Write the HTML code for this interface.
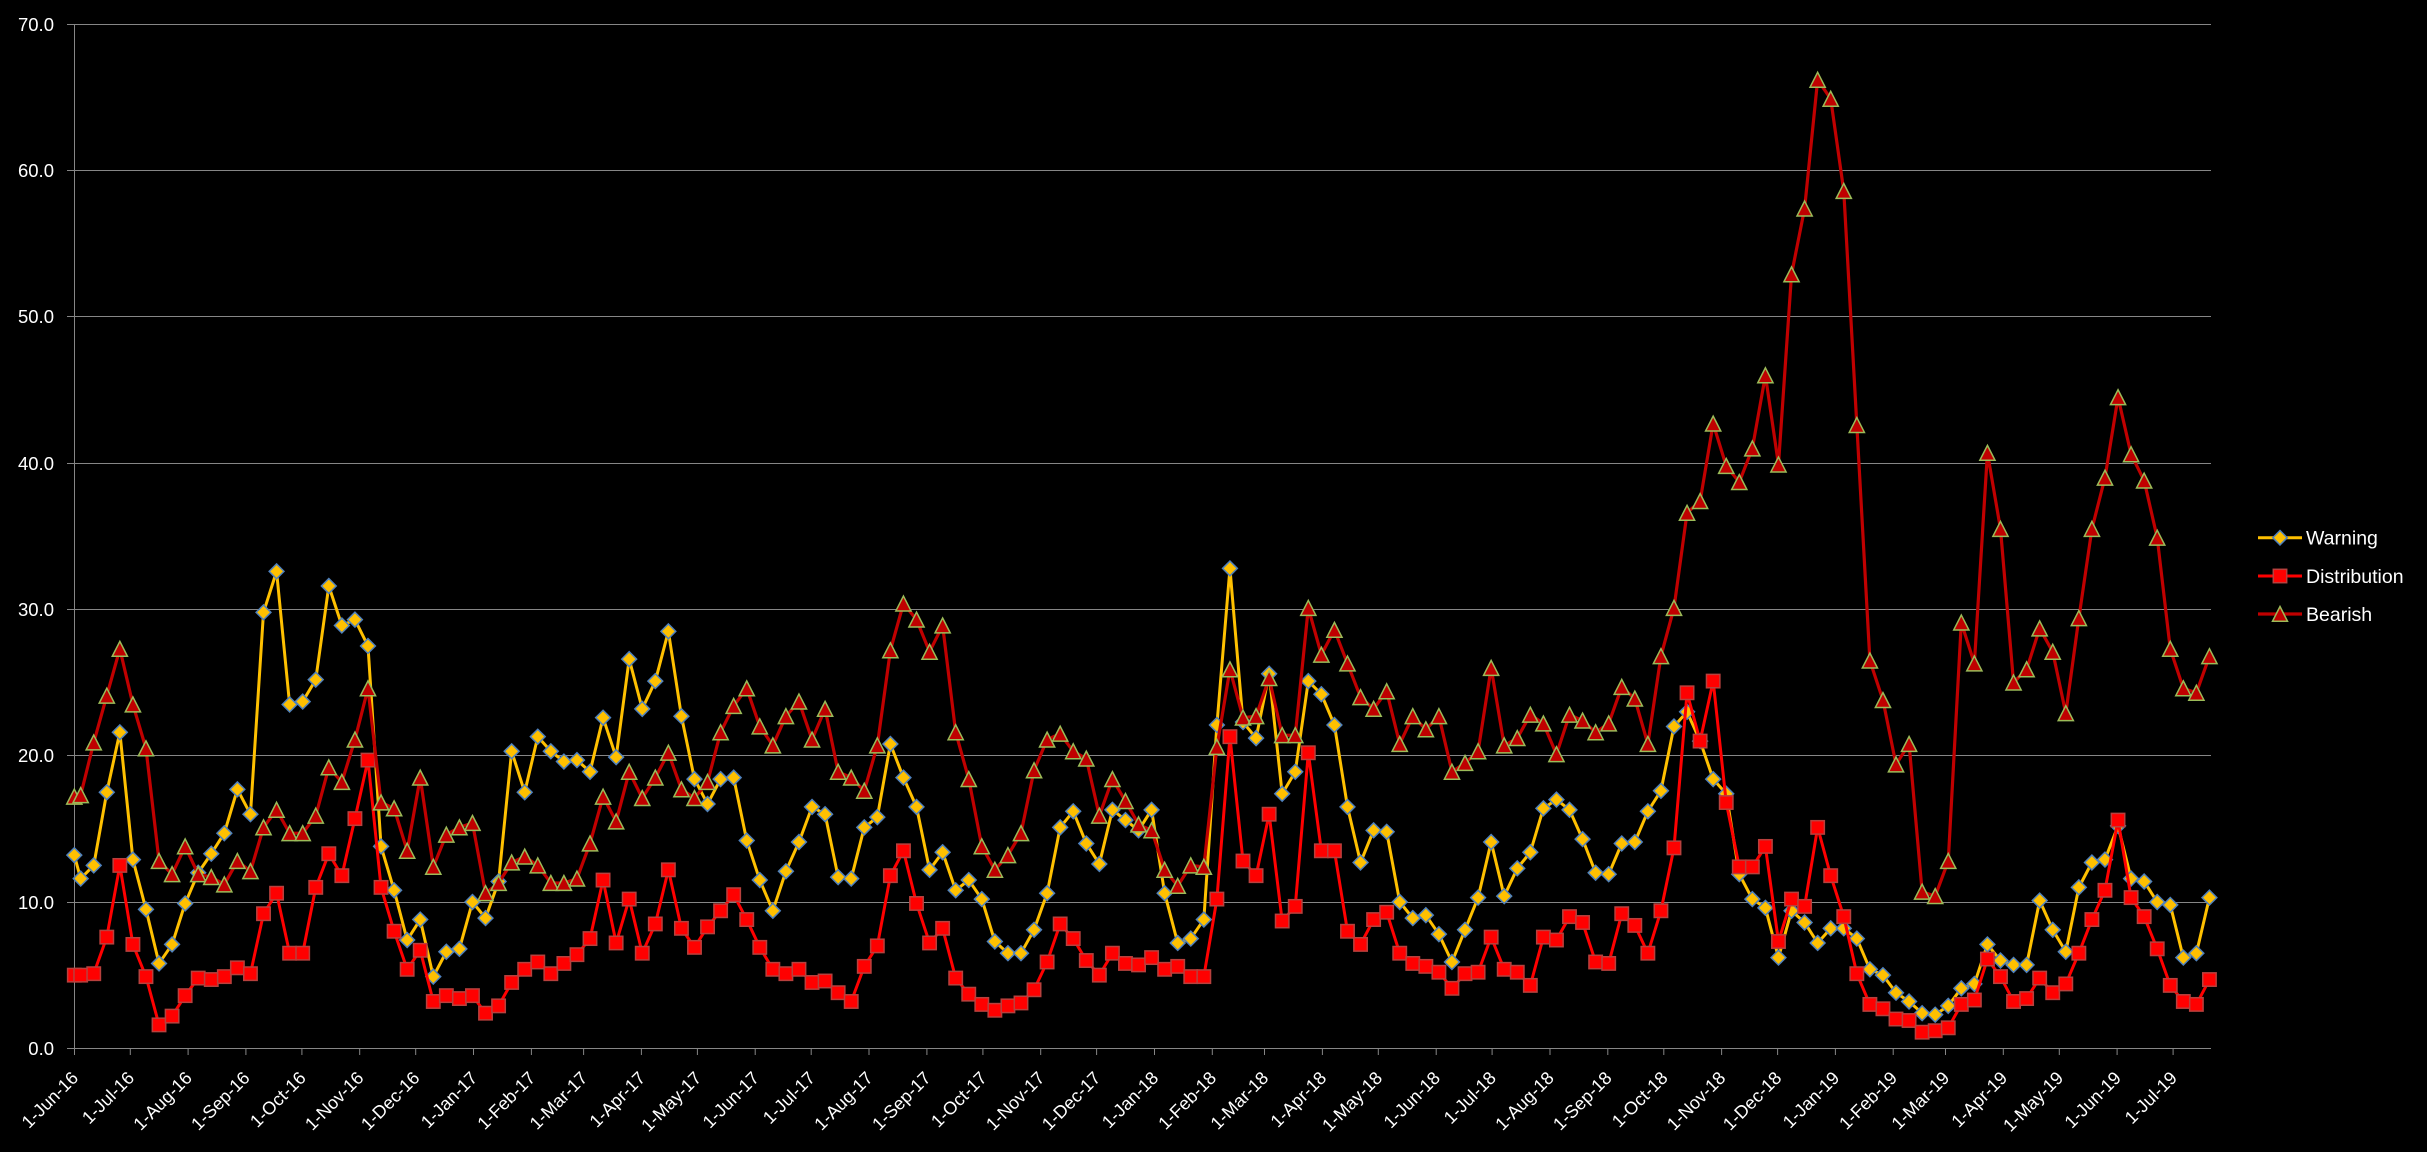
<!DOCTYPE html>
<html>
<head>
<meta charset="utf-8">
<style>
html,body{margin:0;padding:0;background:#000;}
body{width:2427px;height:1152px;overflow:hidden;}
svg{display:block;}
text{font-family:"Liberation Sans",Arial,sans-serif;fill:#fff;}
</style>
</head>
<body>
<svg width="2427" height="1152" viewBox="0 0 2427 1152" xmlns="http://www.w3.org/2000/svg">
<defs>
<marker id="mW" markerUnits="userSpaceOnUse" viewBox="0 0 16 16" refX="8" refY="8" markerWidth="1.2251" markerHeight="1.0936" preserveAspectRatio="none" overflow="visible">
<polygon points="8,0.6 15.4,8 8,15.4 0.6,8" fill="#FFC000" stroke="#4F81BD" stroke-width="1.5"/>
</marker>
<marker id="mD" markerUnits="userSpaceOnUse" viewBox="0 0 16 16" refX="8" refY="8" markerWidth="1.2251" markerHeight="1.0936" preserveAspectRatio="none" overflow="visible">
<rect x="1.3" y="1.3" width="13.4" height="13.4" fill="#FF0000" stroke="#B8403D" stroke-width="1.5"/>
</marker>
<marker id="mB" markerUnits="userSpaceOnUse" viewBox="0 0 16 16" refX="8" refY="8" markerWidth="1.2251" markerHeight="1.0936" preserveAspectRatio="none" overflow="visible">
<polygon points="8,15.5 15.6,0.6 0.4,0.6" fill="#C00000" stroke="#9BBB59" stroke-width="1.5" stroke-linejoin="miter"/>
</marker>
</defs>

<!-- gridlines -->
<g stroke="#868686" stroke-width="1" fill="none">
<path d="M67 24.5H2211M67 170.5H2211M67 316.5H2211M67 463.5H2211M67 609.5H2211M67 755.5H2211M67 902.5H2211M67 1048.5H2211"/>
<path d="M74.5 24V1049"/>
<path d="M74.5 1048v7M130.3 1048v7M188.1 1048v7M245.9 1048v7M301.9 1048v7M359.7 1048v7M415.7 1048v7M473.5 1048v7M531.4 1048v7M583.6 1048v7M641.4 1048v7M697.4 1048v7M755.2 1048v7M811.2 1048v7M869 1048v7M926.9 1048v7M982.9 1048v7M1040.7 1048v7M1096.6 1048v7M1154.5 1048v7M1212.3 1048v7M1264.5 1048v7M1322.4 1048v7M1378.3 1048v7M1436.2 1048v7M1492.1 1048v7M1550 1048v7M1607.8 1048v7M1663.8 1048v7M1721.6 1048v7M1777.6 1048v7M1835.4 1048v7M1893.2 1048v7M1945.5 1048v7M2003.3 1048v7M2059.3 1048v7M2117.1 1048v7M2173.1 1048v7"/>
</g>

<!-- y labels -->
<g font-size="18.5" text-anchor="end">
<text x="54" y="31">70.0</text>
<text x="54" y="177">60.0</text>
<text x="54" y="323">50.0</text>
<text x="54" y="470">40.0</text>
<text x="54" y="616">30.0</text>
<text x="54" y="762">20.0</text>
<text x="54" y="909">10.0</text>
<text x="54" y="1055">0.0</text>
</g>

<!-- x labels -->
<g font-size="18" text-anchor="end">
<text transform="translate(79.3,1079) rotate(-45)">1-Jun-16</text>
<text transform="translate(135.3,1079) rotate(-45)">1-Jul-16</text>
<text transform="translate(193.1,1079) rotate(-45)">1-Aug-16</text>
<text transform="translate(250.9,1079) rotate(-45)">1-Sep-16</text>
<text transform="translate(306.9,1079) rotate(-45)">1-Oct-16</text>
<text transform="translate(364.7,1079) rotate(-45)">1-Nov-16</text>
<text transform="translate(420.7,1079) rotate(-45)">1-Dec-16</text>
<text transform="translate(478.5,1079) rotate(-45)">1-Jan-17</text>
<text transform="translate(536.4,1079) rotate(-45)">1-Feb-17</text>
<text transform="translate(588.6,1079) rotate(-45)">1-Mar-17</text>
<text transform="translate(646.4,1079) rotate(-45)">1-Apr-17</text>
<text transform="translate(702.4,1079) rotate(-45)">1-May-17</text>
<text transform="translate(760.2,1079) rotate(-45)">1-Jun-17</text>
<text transform="translate(816.2,1079) rotate(-45)">1-Jul-17</text>
<text transform="translate(874,1079) rotate(-45)">1-Aug-17</text>
<text transform="translate(931.9,1079) rotate(-45)">1-Sep-17</text>
<text transform="translate(987.9,1079) rotate(-45)">1-Oct-17</text>
<text transform="translate(1045.7,1079) rotate(-45)">1-Nov-17</text>
<text transform="translate(1101.6,1079) rotate(-45)">1-Dec-17</text>
<text transform="translate(1159.5,1079) rotate(-45)">1-Jan-18</text>
<text transform="translate(1217.3,1079) rotate(-45)">1-Feb-18</text>
<text transform="translate(1269.5,1079) rotate(-45)">1-Mar-18</text>
<text transform="translate(1327.4,1079) rotate(-45)">1-Apr-18</text>
<text transform="translate(1383.3,1079) rotate(-45)">1-May-18</text>
<text transform="translate(1441.2,1079) rotate(-45)">1-Jun-18</text>
<text transform="translate(1497.1,1079) rotate(-45)">1-Jul-18</text>
<text transform="translate(1555,1079) rotate(-45)">1-Aug-18</text>
<text transform="translate(1612.8,1079) rotate(-45)">1-Sep-18</text>
<text transform="translate(1668.8,1079) rotate(-45)">1-Oct-18</text>
<text transform="translate(1726.6,1079) rotate(-45)">1-Nov-18</text>
<text transform="translate(1782.6,1079) rotate(-45)">1-Dec-18</text>
<text transform="translate(1840.4,1079) rotate(-45)">1-Jan-19</text>
<text transform="translate(1898.2,1079) rotate(-45)">1-Feb-19</text>
<text transform="translate(1950.5,1079) rotate(-45)">1-Mar-19</text>
<text transform="translate(2008.3,1079) rotate(-45)">1-Apr-19</text>
<text transform="translate(2064.3,1079) rotate(-45)">1-May-19</text>
<text transform="translate(2122.1,1079) rotate(-45)">1-Jun-19</text>
<text transform="translate(2178.1,1079) rotate(-45)">1-Jul-19</text>
</g>

<!-- series in data coordinates: x = 13.06*i + 67.61 ; y = 1048.3 - 14.63*v -->
<g transform="matrix(13.06,0,0,-14.63,67.61,1048.3)">
<polyline id="pW" fill="none" stroke="#FFC000" stroke-width="3" stroke-linejoin="round" vector-effect="non-scaling-stroke" points="0.512,13.2 1,11.6 2,12.5 3,17.5 4,21.6 5,12.9 6,9.5 7,5.8 8,7.1 9,9.9 10,12.0 11,13.3 12,14.7 13,17.7 14,16.0 15,29.8 16,32.6 17,23.5 18,23.7 19,25.2 20,31.6 21,28.9 22,29.3 23,27.5 24,13.8 25,10.8 26,7.4 27,8.8 28,4.9 29,6.6 30,6.8 31,10.0 32,8.9 33,11.4 34,20.3 35,17.5 36,21.3 37,20.3 38,19.6 39,19.7 40,18.9 41,22.6 42,19.9 43,26.6 44,23.2 45,25.1 46,28.5 47,22.7 48,18.4 49,16.7 50,18.4 51,18.5 52,14.2 53,11.5 54,9.4 55,12.1 56,14.1 57,16.5 58,16.0 59,11.7 60,11.6 61,15.1 62,15.8 63,20.8 64,18.5 65,16.5 66,12.2 67,13.4 68,10.8 69,11.5 70,10.2 71,7.3 72,6.5 73,6.5 74,8.1 75,10.6 76,15.1 77,16.2 78,14.0 79,12.6 80,16.3 81,15.6 82,14.9 83,16.3 84,10.6 85,7.2 86,7.5 87,8.8 88,22.1 89,32.8 90,22.3 91,21.2 92,25.6 93,17.4 94,18.9 95,25.1 96,24.2 97,22.1 98,16.5 99,12.7 100,14.9 101,14.8 102,10.0 103,8.9 104,9.1 105,7.8 106,5.9 107,8.1 108,10.3 109,14.1 110,10.4 111,12.3 112,13.4 113,16.4 114,17.0 115,16.3 116,14.3 117,12.0 118,11.9 119,14.0 120,14.1 121,16.2 122,17.6 123,22.0 124,23.0 125,21.0 126,18.4 127,17.4 128,11.9 129,10.2 130,9.6 131,6.2 132,9.4 133,8.6 134,7.2 135,8.2 136,8.2 137,7.5 138,5.4 139,5.0 140,3.8 141,3.2 142,2.4 143,2.3 144,2.9 145,4.1 146,4.4 147,7.1 148,6.0 149,5.7 150,5.7 151,10.1 152,8.1 153,6.6 154,11.0 155,12.7 156,12.9 157,15.2 158,11.6 159,11.4 160,10.0 161,9.8 162,6.2 163,6.5 164,10.3"/>
<polyline fill="none" stroke="none" marker-start="url(#mW)" marker-mid="url(#mW)" marker-end="url(#mW)" points="0.512,13.2 1,11.6 2,12.5 3,17.5 4,21.6 5,12.9 6,9.5 7,5.8 8,7.1 9,9.9 10,12.0 11,13.3 12,14.7 13,17.7 14,16.0 15,29.8 16,32.6 17,23.5 18,23.7 19,25.2 20,31.6 21,28.9 22,29.3 23,27.5 24,13.8 25,10.8 26,7.4 27,8.8 28,4.9 29,6.6 30,6.8 31,10.0 32,8.9 33,11.4 34,20.3 35,17.5 36,21.3 37,20.3 38,19.6 39,19.7 40,18.9 41,22.6 42,19.9 43,26.6 44,23.2 45,25.1 46,28.5 47,22.7 48,18.4 49,16.7 50,18.4 51,18.5 52,14.2 53,11.5 54,9.4 55,12.1 56,14.1 57,16.5 58,16.0 59,11.7 60,11.6 61,15.1 62,15.8 63,20.8 64,18.5 65,16.5 66,12.2 67,13.4 68,10.8 69,11.5 70,10.2 71,7.3 72,6.5 73,6.5 74,8.1 75,10.6 76,15.1 77,16.2 78,14.0 79,12.6 80,16.3 81,15.6 82,14.9 83,16.3 84,10.6 85,7.2 86,7.5 87,8.8 88,22.1 89,32.8 90,22.3 91,21.2 92,25.6 93,17.4 94,18.9 95,25.1 96,24.2 97,22.1 98,16.5 99,12.7 100,14.9 101,14.8 102,10.0 103,8.9 104,9.1 105,7.8 106,5.9 107,8.1 108,10.3 109,14.1 110,10.4 111,12.3 112,13.4 113,16.4 114,17.0 115,16.3 116,14.3 117,12.0 118,11.9 119,14.0 120,14.1 121,16.2 122,17.6 123,22.0 124,23.0 125,21.0 126,18.4 127,17.4 128,11.9 129,10.2 130,9.6 131,6.2 132,9.4 133,8.6 134,7.2 135,8.2 136,8.2 137,7.5 138,5.4 139,5.0 140,3.8 141,3.2 142,2.4 143,2.3 144,2.9 145,4.1 146,4.4 147,7.1 148,6.0 149,5.7 150,5.7 151,10.1 152,8.1 153,6.6 154,11.0 155,12.7 156,12.9 157,15.2 158,11.6 159,11.4 160,10.0 161,9.8 162,6.2 163,6.5 164,10.3"/>

<polyline fill="none" stroke="#FF0000" stroke-width="3" stroke-linejoin="round" vector-effect="non-scaling-stroke" points="0.512,5.0 1,5.0 2,5.1 3,7.6 4,12.5 5,7.1 6,4.9 7,1.6 8,2.2 9,3.6 10,4.8 11,4.7 12,4.9 13,5.5 14,5.1 15,9.2 16,10.6 17,6.5 18,6.5 19,11.0 20,13.3 21,11.8 22,15.7 23,19.7 24,11.0 25,8.0 26,5.4 27,6.7 28,3.2 29,3.6 30,3.4 31,3.6 32,2.4 33,2.9 34,4.5 35,5.4 36,5.9 37,5.1 38,5.8 39,6.4 40,7.5 41,11.5 42,7.2 43,10.2 44,6.5 45,8.5 46,12.2 47,8.2 48,6.9 49,8.3 50,9.4 51,10.5 52,8.8 53,6.9 54,5.4 55,5.1 56,5.4 57,4.5 58,4.6 59,3.8 60,3.2 61,5.6 62,7.0 63,11.8 64,13.5 65,9.9 66,7.2 67,8.2 68,4.8 69,3.7 70,3.0 71,2.6 72,2.9 73,3.1 74,4.0 75,5.9 76,8.5 77,7.5 78,6.0 79,5.0 80,6.5 81,5.8 82,5.7 83,6.2 84,5.4 85,5.6 86,4.9 87,4.9 88,10.2 89,21.3 90,12.8 91,11.8 92,16.0 93,8.7 94,9.7 95,20.2 96,13.5 97,13.5 98,8.0 99,7.1 100,8.8 101,9.3 102,6.5 103,5.8 104,5.6 105,5.2 106,4.1 107,5.1 108,5.2 109,7.6 110,5.4 111,5.2 112,4.3 113,7.6 114,7.4 115,9.0 116,8.6 117,5.9 118,5.8 119,9.2 120,8.4 121,6.5 122,9.4 123,13.7 124,24.3 125,21.0 126,25.1 127,16.8 128,12.4 129,12.4 130,13.8 131,7.3 132,10.2 133,9.7 134,15.1 135,11.8 136,9.0 137,5.1 138,3.0 139,2.7 140,2.0 141,1.9 142,1.1 143,1.2 144,1.4 145,3.0 146,3.3 147,6.1 148,4.9 149,3.2 150,3.4 151,4.8 152,3.8 153,4.4 154,6.5 155,8.8 156,10.8 157,15.6 158,10.3 159,9.0 160,6.8 161,4.3 162,3.2 163,3.0 164,4.7"/>
<polyline fill="none" stroke="none" marker-start="url(#mD)" marker-mid="url(#mD)" marker-end="url(#mD)" points="0.512,5.0 1,5.0 2,5.1 3,7.6 4,12.5 5,7.1 6,4.9 7,1.6 8,2.2 9,3.6 10,4.8 11,4.7 12,4.9 13,5.5 14,5.1 15,9.2 16,10.6 17,6.5 18,6.5 19,11.0 20,13.3 21,11.8 22,15.7 23,19.7 24,11.0 25,8.0 26,5.4 27,6.7 28,3.2 29,3.6 30,3.4 31,3.6 32,2.4 33,2.9 34,4.5 35,5.4 36,5.9 37,5.1 38,5.8 39,6.4 40,7.5 41,11.5 42,7.2 43,10.2 44,6.5 45,8.5 46,12.2 47,8.2 48,6.9 49,8.3 50,9.4 51,10.5 52,8.8 53,6.9 54,5.4 55,5.1 56,5.4 57,4.5 58,4.6 59,3.8 60,3.2 61,5.6 62,7.0 63,11.8 64,13.5 65,9.9 66,7.2 67,8.2 68,4.8 69,3.7 70,3.0 71,2.6 72,2.9 73,3.1 74,4.0 75,5.9 76,8.5 77,7.5 78,6.0 79,5.0 80,6.5 81,5.8 82,5.7 83,6.2 84,5.4 85,5.6 86,4.9 87,4.9 88,10.2 89,21.3 90,12.8 91,11.8 92,16.0 93,8.7 94,9.7 95,20.2 96,13.5 97,13.5 98,8.0 99,7.1 100,8.8 101,9.3 102,6.5 103,5.8 104,5.6 105,5.2 106,4.1 107,5.1 108,5.2 109,7.6 110,5.4 111,5.2 112,4.3 113,7.6 114,7.4 115,9.0 116,8.6 117,5.9 118,5.8 119,9.2 120,8.4 121,6.5 122,9.4 123,13.7 124,24.3 125,21.0 126,25.1 127,16.8 128,12.4 129,12.4 130,13.8 131,7.3 132,10.2 133,9.7 134,15.1 135,11.8 136,9.0 137,5.1 138,3.0 139,2.7 140,2.0 141,1.9 142,1.1 143,1.2 144,1.4 145,3.0 146,3.3 147,6.1 148,4.9 149,3.2 150,3.4 151,4.8 152,3.8 153,4.4 154,6.5 155,8.8 156,10.8 157,15.6 158,10.3 159,9.0 160,6.8 161,4.3 162,3.2 163,3.0 164,4.7"/>

<polyline fill="none" stroke="#C00000" stroke-width="3.2" stroke-linejoin="round" vector-effect="non-scaling-stroke" points="0.512,17.2 1,17.3 2,20.9 3,24.1 4,27.3 5,23.5 6,20.5 7,12.8 8,11.9 9,13.8 10,11.9 11,11.7 12,11.2 13,12.8 14,12.1 15,15.1 16,16.3 17,14.7 18,14.7 19,15.9 20,19.2 21,18.2 22,21.1 23,24.6 24,16.8 25,16.4 26,13.5 27,18.5 28,12.4 29,14.6 30,15.1 31,15.4 32,10.6 33,11.3 34,12.7 35,13.1 36,12.5 37,11.3 38,11.3 39,11.6 40,14.0 41,17.2 42,15.5 43,18.9 44,17.1 45,18.5 46,20.2 47,17.7 48,17.1 49,18.2 50,21.6 51,23.4 52,24.6 53,22.0 54,20.7 55,22.7 56,23.7 57,21.1 58,23.2 59,18.9 60,18.5 61,17.6 62,20.7 63,27.2 64,30.4 65,29.3 66,27.1 67,28.9 68,21.6 69,18.4 70,13.8 71,12.2 72,13.2 73,14.7 74,19.0 75,21.1 76,21.5 77,20.3 78,19.8 79,15.9 80,18.4 81,16.9 82,15.3 83,14.9 84,12.2 85,11.1 86,12.5 87,12.4 88,20.6 89,25.9 90,22.6 91,22.7 92,25.3 93,21.4 94,21.4 95,30.1 96,26.9 97,28.6 98,26.3 99,24.0 100,23.2 101,24.4 102,20.8 103,22.7 104,21.8 105,22.7 106,18.9 107,19.5 108,20.3 109,26.0 110,20.7 111,21.2 112,22.8 113,22.2 114,20.1 115,22.8 116,22.4 117,21.6 118,22.2 119,24.7 120,23.9 121,20.8 122,26.8 123,30.1 124,36.6 125,37.4 126,42.7 127,39.8 128,38.7 129,41.0 130,46.0 131,39.9 132,52.9 133,57.4 134,66.2 135,64.9 136,58.6 137,42.6 138,26.5 139,23.8 140,19.4 141,20.8 142,10.7 143,10.4 144,12.8 145,29.1 146,26.3 147,40.7 148,35.5 149,25.0 150,25.9 151,28.7 152,27.1 153,22.9 154,29.4 155,35.5 156,39.0 157,44.5 158,40.6 159,38.8 160,34.9 161,27.3 162,24.6 163,24.3 164,26.8"/>
<polyline fill="none" stroke="none" marker-start="url(#mB)" marker-mid="url(#mB)" marker-end="url(#mB)" points="0.512,17.2 1,17.3 2,20.9 3,24.1 4,27.3 5,23.5 6,20.5 7,12.8 8,11.9 9,13.8 10,11.9 11,11.7 12,11.2 13,12.8 14,12.1 15,15.1 16,16.3 17,14.7 18,14.7 19,15.9 20,19.2 21,18.2 22,21.1 23,24.6 24,16.8 25,16.4 26,13.5 27,18.5 28,12.4 29,14.6 30,15.1 31,15.4 32,10.6 33,11.3 34,12.7 35,13.1 36,12.5 37,11.3 38,11.3 39,11.6 40,14.0 41,17.2 42,15.5 43,18.9 44,17.1 45,18.5 46,20.2 47,17.7 48,17.1 49,18.2 50,21.6 51,23.4 52,24.6 53,22.0 54,20.7 55,22.7 56,23.7 57,21.1 58,23.2 59,18.9 60,18.5 61,17.6 62,20.7 63,27.2 64,30.4 65,29.3 66,27.1 67,28.9 68,21.6 69,18.4 70,13.8 71,12.2 72,13.2 73,14.7 74,19.0 75,21.1 76,21.5 77,20.3 78,19.8 79,15.9 80,18.4 81,16.9 82,15.3 83,14.9 84,12.2 85,11.1 86,12.5 87,12.4 88,20.6 89,25.9 90,22.6 91,22.7 92,25.3 93,21.4 94,21.4 95,30.1 96,26.9 97,28.6 98,26.3 99,24.0 100,23.2 101,24.4 102,20.8 103,22.7 104,21.8 105,22.7 106,18.9 107,19.5 108,20.3 109,26.0 110,20.7 111,21.2 112,22.8 113,22.2 114,20.1 115,22.8 116,22.4 117,21.6 118,22.2 119,24.7 120,23.9 121,20.8 122,26.8 123,30.1 124,36.6 125,37.4 126,42.7 127,39.8 128,38.7 129,41.0 130,46.0 131,39.9 132,52.9 133,57.4 134,66.2 135,64.9 136,58.6 137,42.6 138,26.5 139,23.8 140,19.4 141,20.8 142,10.7 143,10.4 144,12.8 145,29.1 146,26.3 147,40.7 148,35.5 149,25.0 150,25.9 151,28.7 152,27.1 153,22.9 154,29.4 155,35.5 156,39.0 157,44.5 158,40.6 159,38.8 160,34.9 161,27.3 162,24.6 163,24.3 164,26.8"/>
</g>

<!-- legend -->
<g>
<line x1="2258" y1="537.7" x2="2302" y2="537.7" stroke="#FFC000" stroke-width="3"/>
<polygon points="2280,530.5 2287.2,537.7 2280,544.9 2272.8,537.7" fill="#FFC000" stroke="#4F81BD" stroke-width="1.5"/>
<line x1="2258" y1="576" x2="2302" y2="576" stroke="#FF0000" stroke-width="3"/>
<rect x="2273.3" y="569.3" width="13.4" height="13.4" fill="#FF0000" stroke="#B8403D" stroke-width="1.5"/>
<line x1="2258" y1="614" x2="2302" y2="614" stroke="#C00000" stroke-width="3.2"/>
<polygon points="2280,606.5 2287.5,621.3 2272.5,621.3" fill="#C00000" stroke="#9BBB59" stroke-width="1.5"/>
</g>
<g font-size="19.5">
<text x="2306" y="544.6">Warning</text>
<text x="2306" y="582.9">Distribution</text>
<text x="2306" y="620.9">Bearish</text>
</g>
</svg>
</body>
</html>
